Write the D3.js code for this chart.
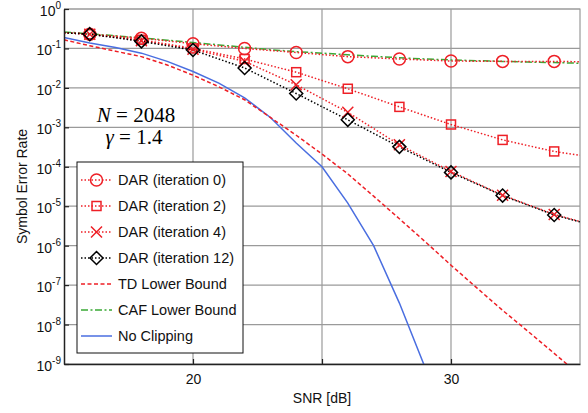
<!DOCTYPE html>
<html>
<head>
<meta charset="utf-8">
<script src="https://cdn.jsdelivr.net/npm/d3@7"></script>
<style>
  body { margin: 0; background: #fff; }
  text { font-family: "Liberation Sans", Arial, sans-serif; }
</style>
</head>
<body>
<svg id="chart" width="588" height="413"></svg>
<script>
// ---------------------------- DATA ----------------------------
// DAR curves: markers at even SNR, line runs to the plot edges
const snrDar = [15, 16, 18, 20, 22, 24, 26, 28, 30, 32, 34, 35];
const darIter0 = [0.25, 0.23, 0.182, 0.132, 0.1, 0.079, 0.062, 0.054, 0.048, 0.047, 0.047, 0.046];
const darIter2 = [0.25, 0.23, 0.166, 0.1, 0.054, 0.025, 0.0095, 0.0033, 0.00118, 0.00048, 0.000245, 0.000195];
const darIter4 = [0.25, 0.23, 0.158, 0.095, 0.047, 0.012, 0.0024, 0.00036, 7.6e-5, 1.9e-5, 6.2e-6, 4.1e-6];
const darIter12 = [0.25, 0.23, 0.151, 0.091, 0.032, 0.0072, 0.00155, 0.00032, 7.2e-5, 1.86e-5, 6.0e-6, 4.0e-6];

// Bounds and reference, one value per dB
const snrFine = [15, 16, 17, 18, 19, 20, 21, 22, 23, 24, 25, 26, 27, 28, 29, 30, 31, 32, 33, 34, 35];
const tdBound = [0.166, 0.117, 0.085, 0.062, 0.038, 0.021, 0.0107, 0.005, 0.00178, 0.00063, 0.00021,
                 6.6e-5, 1.8e-5, 4.8e-6, 1.26e-6, 3.2e-7, 8.5e-8, 2.3e-8, 6.6e-9, 1.86e-9, 5.2e-10];
const cafBound = [0.263, 0.234, 0.209, 0.186, 0.162, 0.141, 0.123, 0.107, 0.093, 0.083, 0.076,
                  0.069, 0.063, 0.058, 0.054, 0.051, 0.049, 0.047, 0.045, 0.044, 0.042];
const snrNoClip = [15, 16, 17, 18, 19, 20, 21, 22, 23, 24, 25, 26, 27, 28, 29];
const noClipping = [0.19, 0.138, 0.105, 0.076, 0.047, 0.026, 0.0132, 0.0056, 0.00178, 0.0004, 0.0001,
                    1.2e-5, 1.0e-6, 3.5e-8, 8e-10];

const xTicks = [20, 25, 30];
const xLabels = [20, 30];
const yExps = [0, -1, -2, -3, -4, -5, -6, -7, -8, -9];

// ---------------------------- SETUP ----------------------------
const red = "#ee1f26";
const blue = "#4a6ee0";
const green = "#3aa935";
const gridColour = "#9a9a9a";

const svg = d3.select("#chart");
const plotLeft = 64, plotRight = 580, plotTop = 9, plotBottom = 364;

const x = d3.scaleLinear().domain([15, 35]).range([plotLeft, plotRight]);
const y = d3.scaleLog().domain([1e-9, 1]).range([plotBottom, plotTop]);

svg.append("clipPath").attr("id", "plotClip")
    .append("rect")
    .attr("x", plotLeft).attr("y", plotTop)
    .attr("width", plotRight - plotLeft).attr("height", plotBottom - plotTop);

// Grid
const grid = svg.append("g");
grid.selectAll(".vgrid")
    .data(xTicks)
    .enter()
    .append("line")
    .attr("x1", d => x(d)).attr("x2", d => x(d))
    .attr("y1", plotTop).attr("y2", plotBottom)
    .style("stroke", gridColour).style("stroke-width", 1.2);
grid.selectAll(".hgrid")
    .data(yExps)
    .enter()
    .append("line")
    .attr("x1", plotLeft).attr("x2", plotRight)
    .attr("y1", d => y(Math.pow(10, d))).attr("y2", d => y(Math.pow(10, d)))
    .style("stroke", gridColour).style("stroke-width", 1.2);

// Top / right border (grey like the grid)
svg.append("path")
    .attr("d", `M${plotLeft},${plotTop}H${plotRight}V${plotBottom}`)
    .style("fill", "none").style("stroke", gridColour).style("stroke-width", 1.2);

// ---------------------------- CURVES ----------------------------
const plot = svg.append("g").attr("clip-path", "url(#plotClip)");

function drawLine(xs, ys, colour, dash, width) {
    const line = d3.line()
        .x((d, i) => x(xs[i]))
        .y(d => y(d));
    plot.append("path")
        .datum(ys)
        .attr("d", line)
        .style("fill", "none")
        .style("stroke", colour)
        .style("stroke-width", width)
        .style("stroke-dasharray", dash);
}

drawLine(snrNoClip, noClipping, blue, null, 1.5);
drawLine(snrFine, tdBound, red, "4,2.5", 1.5);
drawLine(snrFine, cafBound, green, "7,2.5,2,2.5", 1.5);
drawLine(snrDar, darIter0, red, "1.5,2", 1.5);
drawLine(snrDar, darIter2, red, "1.5,2", 1.5);
drawLine(snrDar, darIter4, red, "1.5,2", 1.5);
drawLine(snrDar, darIter12, "#000", "1.5,2", 1.5);

// Marker shapes
function marker(g, type, cx, cy, colour) {
    if (type === "circle") {
        g.append("circle").attr("cx", cx).attr("cy", cy).attr("r", 6)
            .style("fill", "none").style("stroke", colour).style("stroke-width", 1.5);
    } else if (type === "square") {
        g.append("rect").attr("x", cx - 4.5).attr("y", cy - 4.5).attr("width", 9).attr("height", 9)
            .style("fill", "none").style("stroke", colour).style("stroke-width", 1.5);
    } else if (type === "cross") {
        g.append("path").attr("d", `M${cx - 5.5},${cy - 5.5}L${cx + 5.5},${cy + 5.5}M${cx - 5.5},${cy + 5.5}L${cx + 5.5},${cy - 5.5}`)
            .style("stroke", colour).style("stroke-width", 1.5);
    } else if (type === "diamond") {
        g.append("path").attr("d", `M${cx},${cy - 6.5}L${cx + 6.5},${cy}L${cx},${cy + 6.5}L${cx - 6.5},${cy}Z`)
            .style("fill", "none").style("stroke", colour).style("stroke-width", 1.5);
    }
}

const markerSeries = [
    { vals: darIter0, type: "circle", colour: red },
    { vals: darIter2, type: "square", colour: red },
    { vals: darIter4, type: "cross", colour: red },
    { vals: darIter12, type: "diamond", colour: "#000" }
];
markerSeries.forEach(s => {
    const g = plot.append("g");
    snrDar.forEach((snr, i) => {
        if (snr % 2 === 0) marker(g, s.type, x(snr), y(s.vals[i]), s.colour);
    });
});

// ---------------------------- AXES ----------------------------
svg.append("g")
    .attr("transform", `translate(0,${plotBottom})`)
    .call(d3.axisBottom(x).tickValues(xTicks).tickSize(-5).tickSizeOuter(0)
        .tickFormat(d => xLabels.includes(d) ? d : ""))
    .call(g => g.select(".domain").style("stroke", "#222").style("stroke-width", 1.5))
    .call(g => g.selectAll(".tick line").style("stroke", "#222").style("stroke-width", 1.2))
    .call(g => g.selectAll(".tick text").attr("y", 10)
        .style("font-family", "Liberation Sans, Arial, sans-serif").style("font-size", "14px").style("fill", "#111"));

svg.append("g")
    .attr("transform", `translate(${plotLeft},0)`)
    .call(d3.axisLeft(y).tickValues(yExps.map(e => Math.pow(10, e))).tickSize(-5).tickSizeOuter(0).tickFormat(""))
    .call(g => g.select(".domain").style("stroke", "#222").style("stroke-width", 1.5))
    .call(g => g.selectAll(".tick line").style("stroke", "#222").style("stroke-width", 1.2));

// Tick labels as 10^n
const yLab = svg.append("g").selectAll("text")
    .data(yExps)
    .enter()
    .append("text")
    .attr("x", 61)
    .attr("y", d => y(Math.pow(10, d)) + 7)
    .style("font-size", "14px")
    .style("fill", "#111")
    .attr("text-anchor", "end");
yLab.append("tspan").text("10");
yLab.append("tspan")
    .attr("dy", -7)
    .style("font-size", "10px")
    .text(d => d);

svg.append("text")
    .attr("x", plotLeft + (plotRight - plotLeft) / 2)
    .attr("y", 403)
    .attr("text-anchor", "middle")
    .style("font-size", "14px")
    .style("fill", "#111")
    .text("SNR [dB]");

svg.append("text")
    .attr("transform", `translate(27,${(plotTop + plotBottom) / 2}) rotate(-90)`)
    .attr("text-anchor", "middle")
    .style("font-size", "14px")
    .style("fill", "#111")
    .text("Symbol Error Rate");

// ---------------------------- ANNOTATION ----------------------------
const ann = svg.append("g");
const annN = ann.append("text").attr("x", 136).attr("y", 122).attr("text-anchor", "middle")
    .style("font-family", "'Liberation Serif', serif").style("font-size", "21px");
annN.append("tspan").style("font-style", "italic").text("N");
annN.append("tspan").text(" = 2048");
const annG = ann.append("text").attr("x", 134).attr("y", 144).attr("text-anchor", "middle")
    .style("font-family", "'Liberation Serif', serif").style("font-size", "21px");
annG.append("tspan").style("font-style", "italic").text("γ");
annG.append("tspan").text(" = 1.4");

// ---------------------------- LEGEND ----------------------------
const legendItems = [
    { label: "DAR (iteration 0)", colour: red, dash: "1.5,2", type: "circle" },
    { label: "DAR (iteration 2)", colour: red, dash: "1.5,2", type: "square" },
    { label: "DAR (iteration 4)", colour: red, dash: "1.5,2", type: "cross" },
    { label: "DAR (iteration 12)", colour: "#000", dash: "1.5,2", type: "diamond" },
    { label: "TD Lower Bound", colour: red, dash: "4,2.5", type: null },
    { label: "CAF Lower Bound", colour: green, dash: "7,2.5,2,2.5", type: null },
    { label: "No Clipping", colour: blue, dash: null, type: null }
];

const legend = svg.append("g");
legend.append("rect")
    .attr("x", 77).attr("y", 162).attr("width", 166).attr("height", 191)
    .style("fill", "#fff").style("stroke", "#111").style("stroke-width", 1);

legendItems.forEach((d, i) => {
    const ly = 180 + i * 26;
    legend.append("line")
        .attr("x1", 81).attr("x2", 112).attr("y1", ly).attr("y2", ly)
        .style("stroke", d.colour).style("stroke-width", 1.5).style("stroke-dasharray", d.dash);
    if (d.type) marker(legend, d.type, 96.5, ly, d.colour);
    legend.append("text")
        .attr("x", 118).attr("y", ly + 5)
        .style("font-size", "14.5px")
        .style("fill", "#111")
        .text(d.label);
});
</script>
</body>
</html>
